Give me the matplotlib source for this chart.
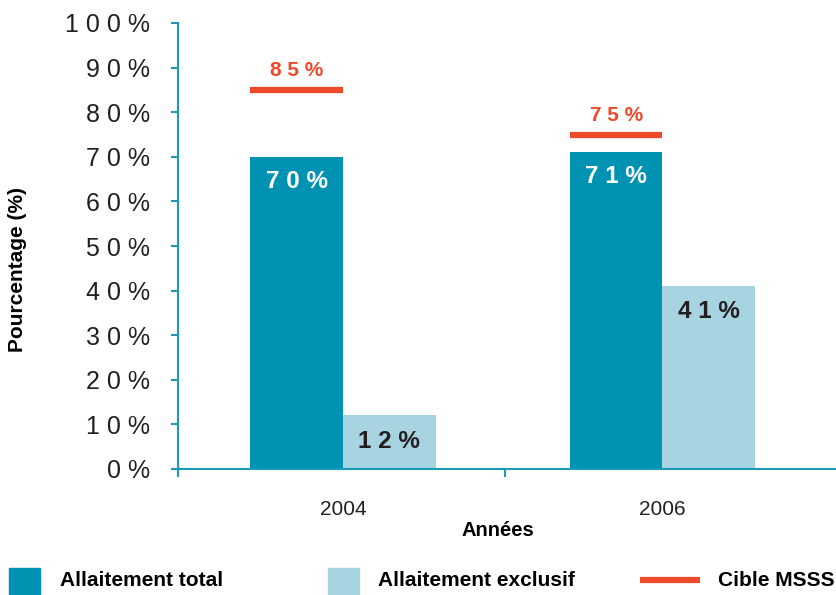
import numpy as np
import matplotlib
matplotlib.use("Agg")
import matplotlib.pyplot as plt
from matplotlib.patches import Rectangle
from matplotlib.lines import Line2D

plt.rcParams['font.family'] = ['Liberation Sans', 'DejaVu Sans']

# data
years = ["2004", "2006"]
total = [70, 71]          # Allaitement total
exclusif = [12, 41]       # Allaitement exclusif
cible = [85, 75]          # Cible MSSS
yticks = [0, 10, 20, 30, 40, 50, 60, 70, 80, 90, 100]

c_dark = "#0092b3"
c_light = "#a7d4e0"
c_red = "#ee4a2a"
c_axis = "#1a9cb8"

def spaced(v):
    return " ".join(list(f"{v}%"))

fig = plt.figure(figsize=(8.36, 5.95), dpi=100)
ax = fig.add_axes([178/836, 1-469/595, 660/836, 446/595])

x = np.arange(len(years))
w = 0.29
ax.bar(x - w/2, total, w, color=c_dark, zorder=2)
ax.bar(x + w/2, exclusif, w, color=c_light, zorder=2)

for i in range(len(years)):
    ax.plot([x[i] - w, x[i]], [cible[i], cible[i]], color=c_red, lw=4.5,
            solid_capstyle='butt', zorder=3)
    ax.annotate(spaced(cible[i]), (x[i] - w/2, cible[i]), xytext=(0, 14),
                textcoords='offset points', ha='center', va='center',
                color=c_red, fontsize=15, fontweight='bold')
    ax.annotate(spaced(total[i]), (x[i] - w/2, total[i]), xytext=(0, -17.5),
                textcoords='offset points', ha='center', va='center',
                color='white', fontsize=17.5, fontweight='bold')
    ax.annotate(spaced(exclusif[i]), (x[i] + w/2, exclusif[i]), xytext=(0, -18.5),
                textcoords='offset points', ha='center', va='center',
                color='#231f20', fontsize=17.5, fontweight='bold')

ax.set_ylim(0, 100)
ax.set_xlim(-0.517, 1.55)
ax.set_yticks(yticks)
ax.set_yticklabels([spaced(t) for t in yticks], fontsize=18, color='#231f20')
ax.tick_params(axis='y', length=5, width=1.5, color=c_axis, pad=15)

ax.set_xticks(x)
ax.set_xticklabels(years, fontsize=15, color='#231f20')
ax.tick_params(axis='x', which='major', length=0, pad=22)
ax.set_xticks([-0.517, 0.508, 1.55], minor=True)
ax.tick_params(axis='x', which='minor', length=6, width=1.5, color=c_axis)

for s in ['top', 'right']:
    ax.spines[s].set_visible(False)
for s in ['left', 'bottom']:
    ax.spines[s].set_color(c_axis)
    ax.spines[s].set_linewidth(1.5)

ax.set_xlabel("Années", fontsize=14.5, fontweight='bold', labelpad=2)
ax.xaxis.label.set_x((498 - 178) / 660)
fig.text(18/836, 1-270/595, "Pourcentage (%)", rotation=90, ha='center',
         va='center', fontsize=15, fontweight='bold')

# legend
ly = 1 - 580/595
fig.add_artist(Rectangle((9/836, 0), 31/836, 27/595, color=c_dark,
                         transform=fig.transFigure))
fig.text(60/836, ly, "Allaitement total", fontsize=15, fontweight='bold',
         va='center')
fig.add_artist(Rectangle((328/836, 0), 31/836, 27/595, color=c_light,
                         transform=fig.transFigure))
fig.text(378/836, ly, "Allaitement exclusif", fontsize=15, fontweight='bold',
         va='center')
fig.add_artist(Line2D([640/836, 700/836], [ly, ly], color=c_red, lw=4.5,
                      transform=fig.transFigure, solid_capstyle='butt'))
fig.text(718/836, ly, "Cible MSSS", fontsize=15, fontweight='bold',
         va='center')

fig.savefig("out.png", dpi=100)
